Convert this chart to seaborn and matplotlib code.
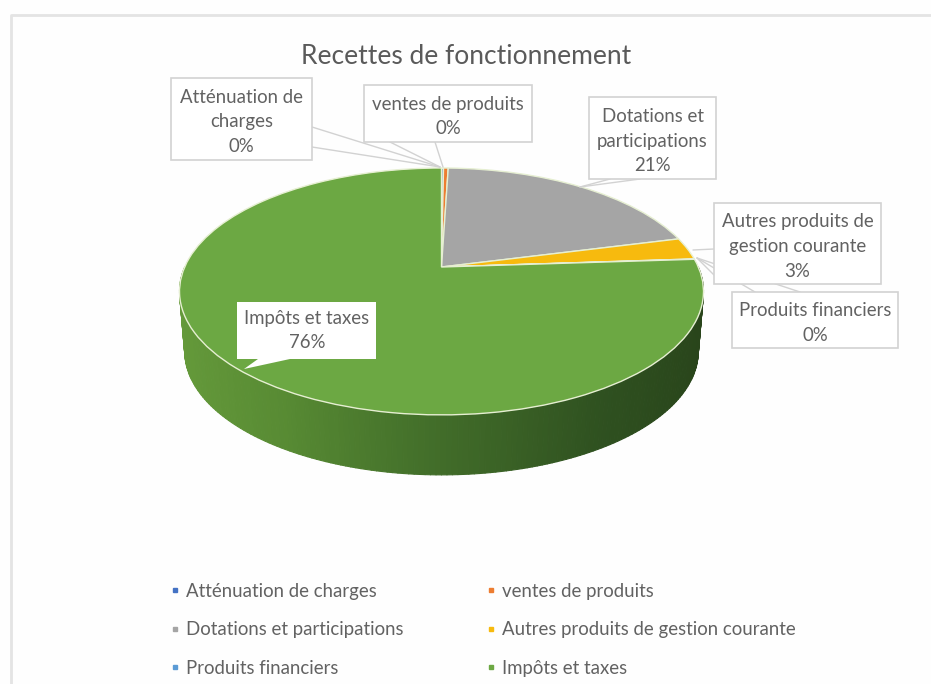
import numpy as np
import matplotlib
matplotlib.use('Agg')
import matplotlib.pyplot as plt
import matplotlib.transforms as mtransforms
from matplotlib.collections import PolyCollection
from matplotlib.lines import Line2D
from matplotlib.patches import Rectangle, Polygon
import seaborn as sns

# Chart data
categories = ['Atténuation de charges', 'ventes de produits', 'Dotations et participations',
              'Autres produits de gestion courante', 'Produits financiers', 'Impôts et taxes']
values = [0.15, 0.35, 20.5, 2.9, 0.05, 76.05]
colors = ['#4472c4', '#ed7d31', '#a5a5a5', '#f7ba0e', '#5b9bd5', '#6ca843']
title = 'Recettes de fonctionnement'
side_colors = ['#64993a', '#578a33', '#47752c', '#3b6326', '#2f5120', '#29451b']

# Pie geometry in image pixels
CX, CY = 441.5, 267
A, B, K = 118.6, 256.8, 0.198
DEPTH = 60
TEXT_COLOR = '#626262'
LINE_COLOR = '#d2d2d2'
LABEL_SIZE = 13.4

sns.set_theme(style='white')
plt.rcParams['font.family'] = ['Lato', 'DejaVu Sans']


# Tilts the flat pie the way the 3D chart does
class Tilt(mtransforms.Transform):
    input_dims = 2
    output_dims = 2

    def transform_non_affine(self, xy):
        xy = np.asarray(xy, dtype=float)
        w = 1 + K * xy[:, 1]
        return np.column_stack((CX + B * xy[:, 0] / w, CY - A * xy[:, 1] / w))


fig = plt.figure(figsize=(9.31, 6.84), dpi=100, facecolor='#fefefe')
ax = fig.add_axes([0, 0, 1, 1])

wedges, _ = ax.pie(values, colors=colors, startangle=90, counterclock=False,
                   wedgeprops={'edgecolor': '#e6efd2', 'linewidth': 1.0})
ax.set_aspect('auto')
ax.set_xlim(0, 931)
ax.set_ylim(684, 0)
ax.axis('off')

tilt = Tilt()
for w in wedges:
    w.set_transform(tilt + ax.transData)
    w.set_zorder(3)

# Side of the green slice, a band of narrow strips getting darker to the right
green = wedges[-1]
angles = np.radians(np.linspace(max(green.theta1, -180), min(green.theta2, 0), 181))
rim = tilt.transform_non_affine(np.column_stack((np.cos(angles), np.sin(angles))))
low = rim.copy()
low[:, 0] = CX + (rim[:, 0] - CX) * 0.98
low[:, 1] = rim[:, 1] + DEPTH
strips = [[rim[i], rim[i + 1], low[i + 1], low[i]] for i in range(len(rim) - 1)]
shade = sns.blend_palette(side_colors, 256)
pos = (rim[:-1, 0] - rim[:, 0].min()) / (rim[:, 0].max() - rim[:, 0].min())
strip_colors = [shade[int(p * 255)] for p in pos]
ax.add_collection(PolyCollection(strips, facecolors=strip_colors, edgecolors=strip_colors,
                                 linewidths=0.8, zorder=2))

# Chart frame, only the top and left edges show in the crop
ax.plot([931, 11, 11], [15, 15, 684], color='#e4e4e4', linewidth=2, zorder=1)

ax.text(466, 56, title, ha='center', va='center', fontsize=19, color='#5a5a5a')

# Leader lines
leaders = [
    [(312, 127), (440, 167)], [(312, 147), (440, 167)], [(390, 142), (440, 167)],
    [(435, 142), (443, 167)],
    [(580, 187), (610, 179)], [(580, 187), (640, 179)],
    [(693, 250), (714, 249)], [(697, 258), (714, 275)],
    [(697, 258), (755, 292)], [(697, 258), (800, 292)],
]
for seg in leaders:
    ax.plot(*zip(*seg), color=LINE_COLOR, linewidth=1.0, zorder=4)

# Data labels
boxes = [
    (171, 78, 312, 160, 'Atténuation de\ncharges\n0%'),
    (364, 85, 532, 142, 'ventes de produits\n0%'),
    (589, 97, 716, 179, 'Dotations et\nparticipations\n21%'),
    (714, 203, 881, 284, 'Autres produits de\ngestion courante\n3%'),
    (732, 292, 898, 348, 'Produits financiers\n0%'),
]
for x0, y0, x1, y1, txt in boxes:
    ax.add_patch(Rectangle((x0, y0), x1 - x0, y1 - y0, facecolor='white', edgecolor=LINE_COLOR,
                           linewidth=1.2, zorder=5))
    ax.text((x0 + x1) / 2, (y0 + y1) / 2 + 3, txt, ha='center', va='center', fontsize=LABEL_SIZE,
            color=TEXT_COLOR, linespacing=1.55, zorder=6)

# The green slice's label is a white callout with no border
ax.add_patch(Polygon([(237, 302), (376, 302), (376, 359), (290, 359), (244, 369), (258, 359), (237, 359)],
                     facecolor='white', edgecolor='none', zorder=5))
ax.text(307, 330.5, 'Impôts et taxes\n76%', ha='center', va='center', fontsize=LABEL_SIZE,
        color=TEXT_COLOR, linespacing=1.55, zorder=6)

# Legend, filled column by column
order = [0, 2, 4, 1, 3, 5]
handles = [Line2D([], [], linestyle='none', marker='s', markersize=3.5, color=colors[i]) for i in order]
ax.legend(handles, [categories[i] for i in order], ncol=2, frameon=False, fontsize=LABEL_SIZE,
          labelcolor=TEXT_COLOR, loc='upper left', bbox_to_anchor=(168, 583), bbox_transform=ax.transData,
          labelspacing=1.155, columnspacing=4.35, handlelength=0.75, handletextpad=0.2,
          borderpad=0, borderaxespad=0)

fig.savefig('out.png', dpi=100, facecolor=fig.get_facecolor())
